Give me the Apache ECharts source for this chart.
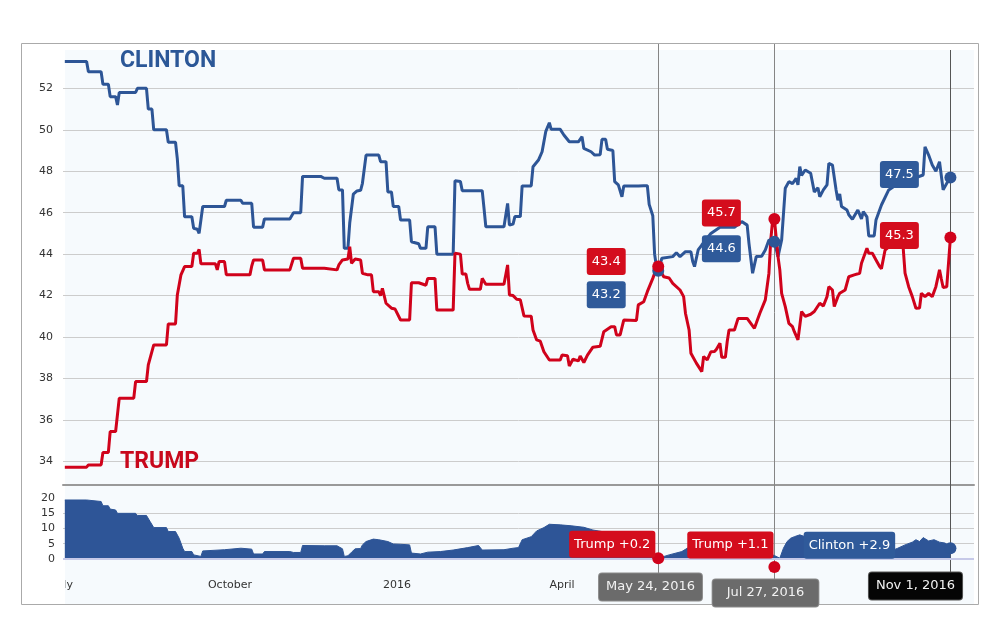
<!DOCTYPE html>
<html><head><meta charset="utf-8">
<script src="https://cdn.jsdelivr.net/npm/echarts@6/dist/echarts.min.js"></script>
<style>html,body{margin:0;padding:0;background:#fff}#c{width:1000px;height:643px}</style>
</head><body><div id="c"></div>
<script>
// ---------------- DATA ----------------
const clintonData = [
['2015-07-02',53.3],['2015-07-14',53.3],['2015-07-15',52.8],['2015-07-22',52.8],['2015-07-23',52.2],['2015-07-26',52.2],
['2015-07-27',51.6],['2015-07-30',51.6],['2015-07-31',51.2],['2015-08-01',51.8],['2015-08-10',51.8],['2015-08-11',52.0],
['2015-08-16',52.0],['2015-08-17',51.0],['2015-08-19',51.0],['2015-08-20',50.0],['2015-08-27',50.0],['2015-08-28',49.4],
['2015-09-01',49.4],['2015-09-02',48.6],['2015-09-03',47.3],['2015-09-05',47.3],['2015-09-06',45.8],['2015-09-10',45.8],
['2015-09-11',45.25],['2015-09-13',45.2],['2015-09-14',45.0],['2015-09-15',45.0],['2015-09-16',46.3],['2015-09-28',46.3],
['2015-09-29',46.6],['2015-10-07',46.6],['2015-10-08',46.45],['2015-10-13',46.45],['2015-10-14',45.3],['2015-10-19',45.3],
['2015-10-20',45.7],['2015-11-03',45.7],['2015-11-05',46.0],['2015-11-09',46.0],['2015-11-10',47.75],['2015-11-20',47.75],
['2015-11-21',47.82],['2015-11-22',47.66],['2015-11-29',47.66],['2015-11-30',47.1],['2015-12-02',47.1],['2015-12-03',44.28],
['2015-12-05',44.28],['2015-12-06',45.5],['2015-12-08',46.9],['2015-12-10',47.05],['2015-12-12',47.08],['2015-12-13',47.42],
['2015-12-15',48.78],['2015-12-22',48.78],['2015-12-23',48.46],['2015-12-26',48.46],['2015-12-27',47.0],['2015-12-29',47.0],
['2015-12-30',46.3],['2016-01-02',46.3],['2016-01-03',45.65],['2016-01-08',45.65],['2016-01-09',44.6],['2016-01-13',44.5],
['2016-01-14',44.28],['2016-01-17',44.28],['2016-01-18',45.32],['2016-01-22',45.32],['2016-01-23',44.0],['2016-02-01',44.0],
['2016-02-02',47.54],['2016-02-05',47.5],['2016-02-06',47.06],['2016-02-17',47.06],['2016-02-18',46.21],['2016-02-19',45.32],
['2016-02-29',45.32],['2016-03-02',46.45],['2016-03-03',45.4],['2016-03-05',45.45],['2016-03-06',45.81],['2016-03-09',45.81],
['2016-03-10',47.29],['2016-03-15',47.29],['2016-03-16',48.22],['2016-03-19',48.54],['2016-03-21',48.94],['2016-03-23',49.91],
['2016-03-25',50.34],['2016-03-26',50.02],['2016-03-31',50.02],['2016-04-02',49.75],['2016-04-05',49.42],['2016-04-10',49.42],
['2016-04-12',49.67],['2016-04-13',49.1],['2016-04-17',48.94],['2016-04-19',48.78],['2016-04-22',48.8],['2016-04-23',49.54],
['2016-04-25',49.54],['2016-04-26',49.06],['2016-04-29',49.0],['2016-04-30',47.5],['2016-05-02',47.34],['2016-05-04',46.77],
['2016-05-05',47.29],['2016-05-13',47.29],['2016-05-16',47.3],['2016-05-18',47.3],['2016-05-19',46.4],['2016-05-21',45.85],
['2016-05-22',44.0],['2016-05-23',43.4],['2016-05-24',43.2],['2016-05-26',43.8],['2016-06-01',43.88],['2016-06-03',44.07],
['2016-06-05',43.88],['2016-06-08',44.12],['2016-06-11',44.12],['2016-06-12',43.64],['2016-06-13',43.4],['2016-06-15',44.2],
['2016-06-17',44.44],['2016-06-22',45.0],['2016-06-27',45.3],['2016-07-05',45.3],['2016-07-09',45.57],['2016-07-12',45.4],
['2016-07-13',44.52],['2016-07-15',43.08],['2016-07-16',43.08],['2016-07-17',43.88],['2016-07-20',43.9],['2016-07-22',44.2],
['2016-07-24',44.68],['2016-07-27',44.6],['2016-07-29',43.88],['2016-07-31',44.68],['2016-08-02',47.18],['2016-08-04',47.5],
['2016-08-06',47.4],['2016-08-08',47.66],['2016-08-09',47.34],['2016-08-10',48.22],['2016-08-11',47.8],['2016-08-13',48.06],
['2016-08-14',48.1],['2016-08-16',47.9],['2016-08-18',47.0],['2016-08-20',47.2],['2016-08-21',46.77],['2016-08-23',47.1],
['2016-08-25',47.34],['2016-08-26',48.38],['2016-08-28',48.3],['2016-08-30',47.1],['2016-08-31',46.6],['2016-09-01',46.9],
['2016-09-02',46.3],['2016-09-05',46.13],['2016-09-06',45.9],['2016-09-08',45.68],['2016-09-11',46.13],['2016-09-13',45.7],
['2016-09-14',46.05],['2016-09-16',45.8],['2016-09-17',44.88],['2016-09-20',44.88],['2016-09-21',45.65],['2016-09-24',46.37],
['2016-09-28',47.1],['2016-10-03',47.4],['2016-10-10',47.6],['2016-10-17',47.82],['2016-10-18',49.18],['2016-10-20',48.78],
['2016-10-22',48.3],['2016-10-24',48.0],['2016-10-26',48.46],['2016-10-27',48.5],['2016-10-28',47.1],['2016-10-29',47.1],
['2016-10-31',47.58],['2016-11-01',47.7]
];
const trumpData = [
['2015-07-02',33.72],['2015-07-14',33.72],['2015-07-15',33.83],['2015-07-22',33.83],['2015-07-23',34.43],['2015-07-26',34.43],
['2015-07-27',35.44],['2015-07-30',35.44],['2015-08-01',37.05],['2015-08-09',37.05],['2015-08-10',37.85],['2015-08-16',37.85],
['2015-08-17',38.66],['2015-08-18',38.66],['2015-08-20',39.62],['2015-08-27',39.62],['2015-08-28',40.63],['2015-09-01',40.63],
['2015-09-02',42.03],['2015-09-04',43.0],['2015-09-06',43.4],['2015-09-10',43.4],['2015-09-11',44.04],['2015-09-13',44.04],
['2015-09-14',44.23],['2015-09-15',43.53],['2015-09-23',43.53],['2015-09-24',43.24],['2015-09-25',43.64],['2015-09-28',43.64],
['2015-09-29',43.0],['2015-10-12',43.0],['2015-10-13',43.43],['2015-10-14',43.72],['2015-10-19',43.72],['2015-10-20',43.24],
['2015-11-03',43.24],['2015-11-05',43.8],['2015-11-09',43.8],['2015-11-10',43.32],['2015-11-22',43.32],['2015-11-23',43.24],
['2015-11-29',43.24],['2015-11-30',43.48],['2015-12-02',43.72],['2015-12-05',43.76],['2015-12-06',44.36],['2015-12-07',43.56],
['2015-12-09',43.76],['2015-12-12',43.72],['2015-12-13',43.08],['2015-12-16',43.0],['2015-12-18',43.0],['2015-12-19',42.19],
['2015-12-22',42.19],['2015-12-23',42.0],['2015-12-24',42.35],['2015-12-25',42.35],['2015-12-26',41.63],['2015-12-29',41.39],
['2015-12-31',41.35],['2016-01-03',40.82],['2016-01-08',40.82],['2016-01-09',42.62],['2016-01-13',42.62],['2016-01-17',42.5],
['2016-01-18',42.83],['2016-01-22',42.83],['2016-01-23',41.3],['2016-02-01',41.3],['2016-02-02',44.04],['2016-02-05',44.0],
['2016-02-06',43.04],['2016-02-08',43.04],['2016-02-09',42.59],['2016-02-10',42.3],['2016-02-16',42.3],['2016-02-17',42.83],
['2016-02-19',42.55],['2016-02-29',42.55],['2016-03-02',43.48],['2016-03-03',42.03],['2016-03-05',42.0],['2016-03-07',41.82],
['2016-03-09',41.8],['2016-03-11',41.02],['2016-03-15',41.0],['2016-03-16',40.34],['2016-03-18',39.86],['2016-03-20',39.8],
['2016-03-22',39.29],['2016-03-25',38.89],['2016-03-31',38.89],['2016-04-01',39.13],['2016-04-04',39.1],['2016-04-05',38.6],
['2016-04-07',38.93],['2016-04-10',38.85],['2016-04-11',39.08],['2016-04-13',38.77],['2016-04-15',39.13],['2016-04-18',39.51],
['2016-04-22',39.55],['2016-04-24',40.26],['2016-04-28',40.5],['2016-04-30',40.5],['2016-05-01',40.1],['2016-05-03',40.1],
['2016-05-05',40.82],['2016-05-12',40.8],['2016-05-13',41.55],['2016-05-16',41.7],['2016-05-18',42.19],['2016-05-21',42.83],
['2016-05-23',43.3],['2016-05-24',43.4],['2016-05-27',42.91],['2016-05-30',42.85],['2016-06-01',42.59],['2016-06-05',42.27],
['2016-06-07',41.95],['2016-06-08',41.15],['2016-06-10',40.34],['2016-06-11',39.22],['2016-06-14',38.74],['2016-06-17',38.33],
['2016-06-18',39.06],['2016-06-20',38.9],['2016-06-22',39.29],['2016-06-24',39.3],['2016-06-25',39.4],['2016-06-27',39.7],
['2016-06-28',39.02],['2016-06-30',39.02],['2016-07-01',39.77],['2016-07-02',40.34],['2016-07-05',40.34],['2016-07-07',40.9],
['2016-07-12',40.9],['2016-07-14',40.66],['2016-07-16',40.42],['2016-07-17',40.66],['2016-07-19',41.15],['2016-07-22',41.79],
['2016-07-24',43.08],['2016-07-25',44.68],['2016-07-26',45.6],['2016-07-27',45.7],['2016-07-28',45.7],['2016-07-29',43.88],
['2016-07-30',43.24],['2016-07-31',42.11],['2016-08-02',41.47],['2016-08-04',40.66],['2016-08-06',40.5],['2016-08-07',40.26],
['2016-08-09',39.86],['2016-08-11',41.23],['2016-08-13',41.0],['2016-08-16',41.1],['2016-08-18',41.23],['2016-08-19',41.15],
['2016-08-21',41.63],['2016-08-23',41.5],['2016-08-25',41.95],['2016-08-26',42.43],['2016-08-28',42.27],['2016-08-29',41.47],
['2016-08-31',41.95],['2016-09-01',42.11],['2016-09-04',42.27],['2016-09-06',42.91],['2016-09-09',43.0],['2016-09-12',43.08],
['2016-09-13',43.56],['2016-09-16',44.28],['2016-09-17',44.04],['2016-09-19',44.04],['2016-09-21',43.72],['2016-09-23',43.4],
['2016-09-24',43.3],['2016-09-26',44.2],['2016-09-30',44.5],['2016-10-05',44.4],['2016-10-06',44.28],['2016-10-07',43.08],
['2016-10-09',42.43],['2016-10-11',41.95],['2016-10-13',41.39],['2016-10-15',41.4],['2016-10-16',42.11],['2016-10-18',41.95],
['2016-10-20',42.1],['2016-10-22',41.95],['2016-10-24',42.43],['2016-10-26',43.24],['2016-10-27',42.8],['2016-10-28',42.39],
['2016-10-30',42.43],['2016-10-31',42.5],['2016-11-01',44.8]
];
const spreadData = [
['2015-07-02',19.4],['2015-07-14',19.4],['2015-07-15',18.9],['2015-07-22',18.9],['2015-07-23',17.5],['2015-07-26',17.5],
['2015-07-27',16.4],['2015-07-30',16.1],['2015-07-31',15.0],['2015-08-10',15.0],['2015-08-11',14.3],['2015-08-16',14.3],
['2015-08-18',12.3],['2015-08-20',10.3],['2015-08-27',10.3],['2015-08-28',9.0],['2015-09-01',9.0],['2015-09-03',6.8],
['2015-09-05',3.5],['2015-09-06',2.4],['2015-09-10',2.4],['2015-09-11',1.3],['2015-09-15',0.8],['2015-09-16',2.6],
['2015-09-28',3.0],['2015-09-29',3.5],['2015-10-07',3.5],['2015-10-08',3.2],['2015-10-13',3.2],['2015-10-14',1.6],
['2015-10-19',1.6],['2015-10-20',2.4],['2015-11-03',2.4],['2015-11-05',2.1],['2015-11-09',2.1],['2015-11-10',4.4],
['2015-11-22',4.3],['2015-11-29',4.3],['2015-12-02',3.3],['2015-12-03',0.8],['2015-12-05',1.0],['2015-12-07',2.2],
['2015-12-09',3.3],['2015-12-12',3.4],['2015-12-13',4.6],['2015-12-15',5.7],['2015-12-19',6.5],['2015-12-22',6.3],
['2015-12-27',5.7],['2015-12-30',4.9],['2016-01-03',4.8],['2016-01-08',4.6],['2016-01-09',1.9],['2016-01-14',1.6],
['2016-01-18',2.2],['2016-01-25',2.4],['2016-02-01',2.9],['2016-02-02',3.5],['2016-02-09',3.7],['2016-02-15',4.4],
['2016-02-17',2.9],['2016-02-29',3.0],['2016-03-05',3.5],['2016-03-08',3.7],['2016-03-10',6.3],['2016-03-15',7.3],
['2016-03-18',9.2],['2016-03-22',10.3],['2016-03-25',11.4],['2016-03-31',11.2],['2016-04-06',10.9],['2016-04-13',10.4],
['2016-04-18',9.5],['2016-04-25',8.8],['2016-05-03',6.7],['2016-05-14',6.0],['2016-05-19',4.0],['2016-05-22',1.0],
['2016-05-24',0.2],['2016-05-25',0.8],['2016-05-30',1.3],['2016-06-06',2.4],['2016-06-09',3.5],['2016-06-16',6.0],
['2016-06-27',5.6],['2016-07-07',4.6],['2016-07-16',2.7],['2016-07-24',1.6],['2016-07-27',1.1],['2016-07-30',0.2],
['2016-08-01',3.5],['2016-08-03',5.7],['2016-08-05',6.8],['2016-08-07',7.3],['2016-08-10',7.9],['2016-08-11',7.3],
['2016-08-20',5.8],['2016-09-06',3.5],['2016-09-17',1.2],['2016-09-25',2.6],['2016-10-01',3.0],['2016-10-03',3.5],
['2016-10-07',4.6],['2016-10-11',5.5],['2016-10-13',6.3],['2016-10-15',5.7],['2016-10-17',7.0],['2016-10-20',5.9],
['2016-10-23',6.3],['2016-10-26',5.5],['2016-10-29',5.2],['2016-10-31',4.5],['2016-11-01',3.5]
];
const markerDates = ['2016-05-24','2016-07-27','2016-11-01'];
const clintonMarkerValues = [43.2, 44.6, 47.7];
const trumpMarkerValues = [43.4, 45.7, 44.8];
const clintonMarkerLabels = ['43.2','44.6','47.5'];
const trumpMarkerLabels = ['43.4','45.7','45.3'];
const spreadMarkerValues = [0.2, -2.7, 3.5];
const spreadLeaders = ['Trump','Trump','Clinton'];
const spreadMargins = ['0.2','1.1','2.9'];
const xTickDates = ['2015-07-01','2015-10-01','2016-01-01','2016-04-01','2016-07-01','2016-10-01'];
const xTickLabels = ['July','October','2016','April','July','October'];
const yTicks = [34,36,38,40,42,44,46,48,50,52];
const spreadLabelTicks = [0,5,10,15,20];
const spreadGridTicks = [5,10,15];
const xRange = ['2015-07-01','2016-11-14'];
const seriesNames = ['CLINTON','TRUMP'];

// ---------------- STYLE ----------------
const BLUE = '#2d5596', RED = '#d0021b', AREA = '#2e5597';
const BOX_RED = '#d40d1d', BOX_BLUE = '#2f5a9a';
const FONT = '"DejaVu Sans", Verdana, sans-serif';
const leaderColor = {Clinton: BLUE, Trump: RED};
const leaderBox = {Clinton: BOX_BLUE, Trump: BOX_RED};
const trumpLabelOffsets = [[-52,-5],[-53,-6],[-51,-2]];
const clintonLabelOffsets = [[-52,24],[-53,7],[-51,-3]];
const spreadLabelOffsets = [[-46,-14],[-44,-22],[-101,-3]];
const dateBoxStyle = [
  {dx:-8, y:587, bg:'#6b6b6b', border:'#8a8a8a', top:44, pad:[7,7]},
  {dx:-9, y:593, bg:'#6b6b6b', border:'#8a8a8a', top:44, pad:[7,14]},
  {dx:-35, y:586, bg:'#050505', border:'#555', top:50, pad:[7,7]}
];
const MONTHS = ['Jan','Feb','Mar','Apr','May','Jun','Jul','Aug','Sep','Oct','Nov','Dec'];

const P = s => echarts.time.parse(s).getTime();
const toXY = arr => arr.map(([d, v]) => [P(d), v]);
const xTickMap = {};
xTickDates.forEach((d,i)=>{ xTickMap[P(d)] = xTickLabels[i]; });

function boxLabel(text, bg, offset){
  return {show:true, position:'inside', offset, formatter:text, color:'#fff', opacity:1,
    fontFamily:FONT, fontSize:13, backgroundColor:bg, padding:[7,5], borderRadius:3};
}

const chart = echarts.init(document.getElementById('c'), null, {renderer:'canvas'});
const option = {
  animation:false,
  backgroundColor:'#ffffff',
  grid:[
    {left:63, right:26, top:50, height:435},
    {left:63, right:26, top:483, height:91}
  ],
  xAxis:[
    {type:'value', gridIndex:0, min:P(xRange[0]), max:P(xRange[1]),
      axisLabel:{show:false}, axisTick:{show:false}, splitLine:{show:false},
      axisLine:{show:true, onZero:false, lineStyle:{color:'#999', width:2}}},
    {type:'value', gridIndex:1, min:P(xRange[0]), max:P(xRange[1]),
      axisLine:{show:false, onZero:false}, axisTick:{show:false}, splitLine:{show:false},
      axisLabel:{show:true, customValues:xTickDates.map(P), margin:6, showMinLabel:true,
        formatter:v => xTickMap[v] || '', color:'#333', fontFamily:FONT, fontSize:11}}
  ],
  yAxis:[
    {type:'value', gridIndex:0, min:32.86, max:53.85,
      axisLine:{show:false}, axisTick:{show:false, customValues:yTicks},
      axisLabel:{customValues:yTicks, margin:10, color:'#333', fontFamily:FONT, fontSize:11},
      splitLine:{show:true, lineStyle:{color:'#cccccc', width:1}}},
    {type:'value', gridIndex:1, min:-5, max:25,
      axisLine:{show:false}, axisTick:{show:false, customValues:spreadGridTicks},
      axisLabel:{customValues:spreadLabelTicks, margin:8, color:'#333', fontFamily:FONT, fontSize:11},
      splitLine:{show:true, lineStyle:{color:'#cccccc', width:1}}}
  ],
  series:[
    {name:seriesNames[0], type:'line', xAxisIndex:0, yAxisIndex:0, data:toXY(clintonData), symbol:'none',
      lineStyle:{color:BLUE, width:3}, z:2},
    {name:seriesNames[1], type:'line', xAxisIndex:0, yAxisIndex:0, data:toXY(trumpData), symbol:'none',
      lineStyle:{color:RED, width:3}, z:2},
    {name:'spread', type:'line', xAxisIndex:1, yAxisIndex:1, data:toXY(spreadData), symbol:'none',
      lineStyle:{color:AREA, width:1}, areaStyle:{color:AREA, opacity:1}, z:2,
      markLine:{silent:true, symbol:'none', label:{show:false},
        lineStyle:{color:'#c6c9e8', width:2, type:'solid'}, data:[{yAxis:0}]}},
    {type:'scatter', xAxisIndex:0, yAxisIndex:0, symbolSize:12, z:4,
      itemStyle:{color:BLUE, opacity:1},
      data:markerDates.map((d,i)=>({value:[P(d), clintonMarkerValues[i]],
        label:boxLabel(clintonMarkerLabels[i], BOX_BLUE, clintonLabelOffsets[i])}))},
    {type:'scatter', xAxisIndex:0, yAxisIndex:0, symbolSize:12, z:5,
      itemStyle:{color:RED, opacity:1},
      data:markerDates.map((d,i)=>({value:[P(d), trumpMarkerValues[i]],
        label:boxLabel(trumpMarkerLabels[i], BOX_RED, trumpLabelOffsets[i])}))},
    {type:'scatter', xAxisIndex:1, yAxisIndex:1, symbolSize:12, z:5,
      data:markerDates.map((d,i)=>({value:[P(d), spreadMarkerValues[i]],
        itemStyle:{color:leaderColor[spreadLeaders[i]], opacity:1},
        label:boxLabel(spreadLeaders[i] + ' +' + spreadMargins[i],
          leaderBox[spreadLeaders[i]], spreadLabelOffsets[i])}))}
  ]
};
chart.setOption(option);

const els = [
  {type:'rect', z:-10, shape:{x:65, y:50, width:909, height:554}, style:{fill:'#f6fafd'}},
  {type:'rect', z:-9, shape:{x:21.5, y:43.5, width:957, height:561}, style:{fill:'none', stroke:'#aaaaaa', lineWidth:1}},
  {type:'rect', z:50, shape:{x:22, y:572, width:43, height:28}, style:{fill:'#ffffff'}},
  {type:'text', z:20, x:120, y:61, style:{text:seriesNames[0], fill:'#2b5797',
    font:'bold 23px Roboto, "Liberation Sans", sans-serif', align:'left', verticalAlign:'middle'}},
  {type:'text', z:20, x:120, y:462, style:{text:seriesNames[1], fill:'#c8081c',
    font:'bold 23px Roboto, "Liberation Sans", sans-serif', align:'left', verticalAlign:'middle'}}
];
markerDates.forEach((d,i)=>{
  const x = Math.round(chart.convertToPixel({xAxisIndex:1}, P(d))) + 0.5;
  const st = dateBoxStyle[i];
  const dt = new Date(P(d));
  const text = MONTHS[dt.getMonth()] + ' ' + dt.getDate() + ', ' + dt.getFullYear();
  els.push({type:'line', z:1, shape:{x1:x, y1:st.top, x2:x, y2:st.y-12},
    style:{stroke: i===2 ? '#555555' : '#858585', lineWidth: 1}});
  els.push({type:'text', z:60, x:x+st.dx, y:st.y, style:{text, fill:'#f2f2f2',
    font:'13px ' + FONT, align:'center', verticalAlign:'middle',
    backgroundColor:st.bg, borderColor:st.border, borderWidth:1, borderRadius:3, padding:st.pad}});
});
chart.setOption({graphic:{elements:els}});
</script></body></html>
